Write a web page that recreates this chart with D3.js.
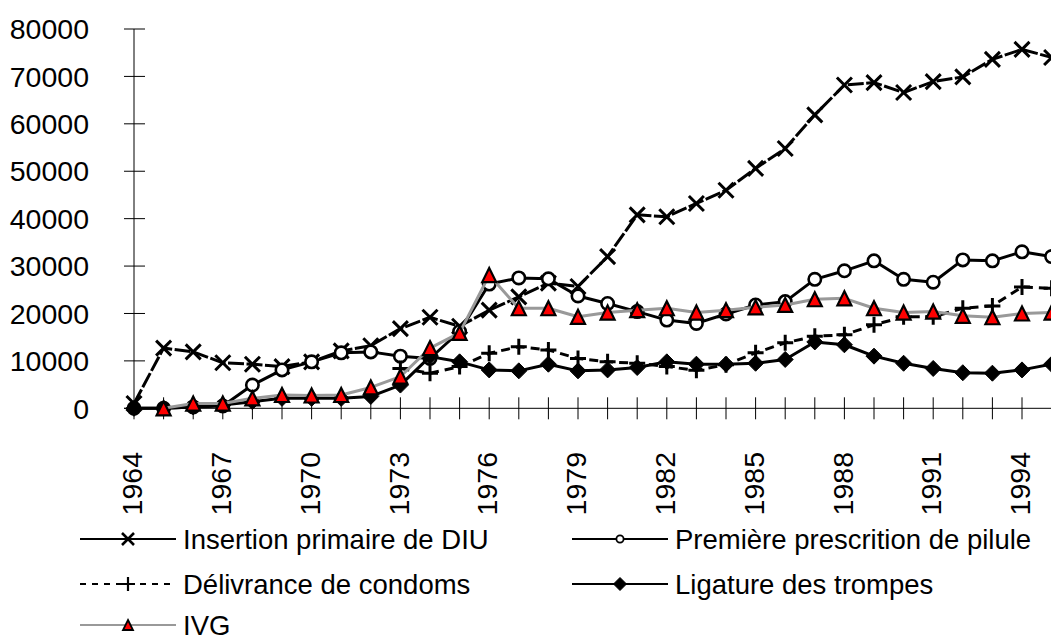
<!DOCTYPE html>
<html>
<head>
<meta charset="utf-8">
<script src="https://cdn.jsdelivr.net/npm/d3@7"></script>
<style>
  body { margin: 0; background: #fff; }
  svg text { font-family: "Liberation Sans", Arial, sans-serif; fill: #000; }
</style>
</head>
<body>
<svg id="chart"></svg>
<script>
const years = [1964, 1965, 1966, 1967, 1968, 1969, 1970, 1971, 1972, 1973, 1974, 1975, 1976, 1977, 1978, 1979,
  1980, 1981, 1982, 1983, 1984, 1985, 1986, 1987, 1988, 1989, 1990, 1991, 1992, 1993, 1994, 1995];
const yearLabels = [1964, 1967, 1970, 1973, 1976, 1979, 1982, 1985, 1988, 1991, 1994];
const yTicks = [0, 10000, 20000, 30000, 40000, 50000, 60000, 70000, 80000];

const diu = [1000, 12700, 11900, 9600, 9300, 8800, 9800, 12100, 13200, 16800, 19200, 17300, 20700, 23500, 26400, 25700,
  32000, 40800, 40400, 43200, 46000, 50600, 54800, 61900, 68200, 68700, 66600, 68900, 69900, 73600, 75700, 74000];
const pilule = [0, 0, 300, 500, 4900, 8100, 9800, 11700, 11900, 11000, 10500, 16200, 26200, 27500, 27300, 23700,
  22100, 20400, 18600, 17900, 19900, 21800, 22500, 27200, 29000, 31100, 27200, 26600, 31300, 31100, 33000, 32000];
const condoms = [null, null, null, null, null, null, null, null, null, 8400, 7400, 8800, 11600, 13000, 12300, 10500,
  9800, 9500, 8800, 8000, 9200, 11700, 13800, 15200, 15500, 17600, 19300, 19300, 21100, 21600, 25600, 25300];
const ligature = [0, 0, 300, 700, 1400, 2100, 2100, 2100, 2500, 4900, 10900, 9800, 8100, 7900, 9300, 7900,
  8100, 8600, 9800, 9300, 9300, 9500, 10300, 14000, 13400, 11000, 9500, 8400, 7500, 7400, 8100, 9300];
const ivg = [null, 0, 1000, 1000, 2100, 2800, 2700, 2800, 4400, 6700, 12700, 15900, 28100, 21100, 21100, 19300,
  20200, 20700, 21100, 20200, 20700, 21300, 21800, 23000, 23200, 21100, 20200, 20400, 19500, 19200, 20000, 20200];

const W = 1051, H = 641;
const svg = d3.select("svg#chart").attr("width", W).attr("height", H);

const x = d3.scaleLinear().domain([1964, 1995]).range([134, 1051.6]);
const y = d3.scaleLinear().domain([0, 80000]).range([408.3, 29]);

// marker drawing helpers
function drawMarker(g, type, s, sw) {
  if (type === "x") {
    g.append("path").attr("d", `M${-s},${-s}L${s},${s}M${-s},${s}L${s},${-s}`)
      .attr("stroke", "#000").attr("stroke-width", sw).attr("fill", "none");
  } else if (type === "plus") {
    g.append("path").attr("d", `M${-s},0L${s},0M0,${-s}L0,${s}`)
      .attr("stroke", "#000").attr("stroke-width", sw).attr("fill", "none");
  } else if (type === "circle") {
    g.append("circle").attr("r", s).attr("fill", "#fff")
      .attr("stroke", "#000").attr("stroke-width", sw);
  } else if (type === "diamond") {
    g.append("path").attr("d", `M0,${-s}L${s},0L0,${s}L${-s},0Z`).attr("fill", "#000")
      .attr("stroke", "#000").attr("stroke-width", sw);
  } else if (type === "triangle") {
    g.append("path").attr("d", `M0,${-s}L${s},${s}L${-s},${s}Z`).attr("fill", "#ff0000")
      .attr("stroke", "#000").attr("stroke-width", sw).attr("stroke-linejoin", "miter");
  }
}

const series = [
  { name: "Insertion primaire de DIU", values: diu, color: "#000", dash: "16,2.5", legendDash: null,
    marker: "x", size: 7.5, sw: 3, legendSize: 6, legendSw: 2.6 },
  { name: "Première prescrition de pilule", values: pilule, color: "#000", dash: null, legendDash: null,
    marker: "circle", size: 6.2, sw: 2.6, legendSize: 3.6, legendSw: 1.8 },
  { name: "Délivrance de condoms", values: condoms, color: "#000", dash: "9,6", legendDash: "6,6",
    marker: "plus", size: 8, sw: 3, legendSize: 7, legendSw: 2.2 },
  { name: "Ligature des trompes", values: ligature, color: "#000", dash: null, legendDash: null,
    marker: "diamond", size: 8, sw: 1, legendSize: 6.5, legendSw: 1 },
  { name: "IVG", values: ivg, color: "#999999", dash: null, legendDash: null,
    marker: "triangle", size: 7, sw: 2.2, legendSize: 5, legendSw: 1.8 },
];

// axes
const axisG = svg.append("g");
axisG.append("line").attr("x1", x(1964)).attr("x2", x(1964)).attr("y1", y(80000)).attr("y2", y(0) + 11)
  .attr("stroke", "#000").attr("stroke-width", 1);
axisG.append("line").attr("x1", x(1964) - 10).attr("x2", W).attr("y1", y(0)).attr("y2", y(0))
  .attr("stroke", "#000").attr("stroke-width", 1);

axisG.selectAll("line.ytick").data(yTicks).join("line").attr("class", "ytick")
  .attr("x1", x(1964) - 10).attr("x2", x(1964) + 11)
  .attr("y1", d => y(d)).attr("y2", d => y(d))
  .attr("stroke", "#000").attr("stroke-width", 1);

axisG.selectAll("text.ylab").data(yTicks).join("text").attr("class", "ylab")
  .attr("x", 89).attr("y", d => y(d)).attr("dy", "0.36em")
  .attr("text-anchor", "end").attr("font-size", 28.5).text(d => d);

axisG.selectAll("line.xtick").data(years.slice(1)).join("line").attr("class", "xtick")
  .attr("x1", d => x(d)).attr("x2", d => x(d))
  .attr("y1", y(0) - 11).attr("y2", y(0) + 11)
  .attr("stroke", "#000").attr("stroke-width", 1);

axisG.selectAll("text.xlab").data(yearLabels).join("text").attr("class", "xlab")
  .attr("transform", d => `translate(${x(d) - 2},452) rotate(-90)`)
  .attr("dy", "0.36em").attr("text-anchor", "end").attr("font-size", 28.5).text(d => d);

// series lines + markers
const plot = svg.append("g");
series.forEach(s => {
  const pts = years.map((yr, i) => ({ yr, v: s.values[i] })).filter(p => p.v !== null);
  const line = d3.line().x(p => x(p.yr)).y(p => y(p.v));
  plot.append("path").datum(pts).attr("d", line)
    .attr("fill", "none").attr("stroke", s.color).attr("stroke-width", 3)
    .attr("stroke-linejoin", "round")
    .attr("stroke-dasharray", s.dash);
  pts.forEach(p => {
    const g = plot.append("g").attr("transform", `translate(${x(p.yr)},${y(p.v)})`);
    drawMarker(g, s.marker, s.size, s.sw);
  });
});

// legend
const legendPos = [
  { lx: 80, ly: 539 }, { lx: 572, ly: 539 },
  { lx: 80, ly: 584 }, { lx: 572, ly: 584 },
  { lx: 80, ly: 625 },
];
const legend = svg.append("g");
series.forEach((s, i) => {
  const p = legendPos[i];
  const g = legend.append("g").attr("transform", `translate(${p.lx},${p.ly})`);
  g.append("line").attr("x1", 0).attr("x2", 96).attr("y1", 0).attr("y2", 0)
    .attr("stroke", s.color).attr("stroke-width", 2)
    .attr("stroke-dasharray", s.legendDash);
  const m = g.append("g").attr("transform", "translate(48,0)");
  drawMarker(m, s.marker, s.legendSize, s.legendSw);
  g.append("text").attr("x", 103).attr("y", 0).attr("dy", "0.36em")
    .attr("font-size", 27.5).text(s.name);
});
</script>
</body>
</html>
